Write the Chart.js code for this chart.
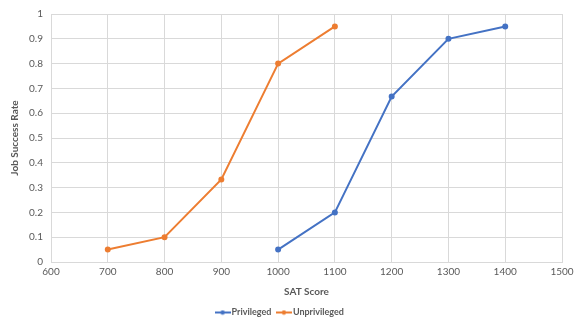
<!DOCTYPE html>
<html>
<head>
<meta charset="utf-8">
<script src="https://cdn.jsdelivr.net/npm/chart.js@4"></script>
<style>
  html, body { margin: 0; padding: 0; background: #fff; }
  #wrap { width: 581px; height: 327px; position: relative; }
</style>
</head>
<body>
<div id="wrap"><canvas id="chart"></canvas></div>
<script>
// data
const privilegedScores = [1000, 1100, 1200, 1300, 1400];
const privilegedRates = [0.05, 0.2, 0.667, 0.9, 0.95];
const unprivilegedScores = [700, 800, 900, 1000, 1100];
const unprivilegedRates = [0.05, 0.1, 0.333, 0.8, 0.95];

const BLUE = '#4472C4';
const ORANGE = '#ED7D31';
const FONT = 'Lato, "Open Sans", sans-serif';

function toPoints(xs, ys) {
  return xs.map((x, i) => ({ x: x, y: ys[i] }));
}

// little line-with-dot marker for the legend
function legendMarker(color) {
  const c = document.createElement('canvas');
  c.width = 16; c.height = 6;
  const g = c.getContext('2d');
  g.strokeStyle = color;
  g.lineWidth = 2;
  g.beginPath(); g.moveTo(0, 3); g.lineTo(16, 3); g.stroke();
  g.fillStyle = color;
  g.beginPath(); g.arc(8, 3, 2.2, 0, Math.PI * 2); g.fill();
  return c;
}

const ctx = document.getElementById('chart').getContext('2d');
new Chart(ctx, {
  type: 'line',
  data: {
    datasets: [
      {
        label: 'Privileged',
        data: toPoints(privilegedScores, privilegedRates),
        borderColor: BLUE,
        backgroundColor: BLUE,
        borderWidth: 2,
        pointRadius: 2,
        tension: 0
      },
      {
        label: 'Unprivileged',
        data: toPoints(unprivilegedScores, unprivilegedRates),
        borderColor: ORANGE,
        backgroundColor: ORANGE,
        borderWidth: 2,
        pointRadius: 2,
        tension: 0
      }
    ]
  },
  options: {
    responsive: true,
    maintainAspectRatio: false,
    animation: false,
    layout: { padding: { top: 10, right: 19, left: 0, bottom: 0 } },
    plugins: {
      tooltip: { enabled: false },
      legend: {
        position: 'bottom',
        labels: {
          usePointStyle: true,
          font: { family: FONT, size: 9, weight: 'bold' },
          color: '#595959',
          padding: 8,
          generateLabels: function(chart) {
            return chart.data.datasets.map((ds, i) => ({
              text: ds.label,
              pointStyle: legendMarker(ds.borderColor),
              fillStyle: ds.borderColor,
              strokeStyle: ds.borderColor,
              lineWidth: 0,
              hidden: false,
              datasetIndex: i,
              fontColor: '#595959'
            }));
          }
        }
      }
    },
    scales: {
      x: {
        type: 'linear',
        min: 600,
        max: 1500,
        ticks: {
          stepSize: 100,
          color: '#595959',
          font: { family: FONT, size: 10 },
          maxRotation: 0,
          padding: 4,
          callback: function(v) { return String(v); }
        },
        grid: { color: '#d9d9d9', drawTicks: false },
        border: { color: '#d9d9d9' },
        title: {
          display: true,
          text: 'SAT Score',
          color: '#595959',
          font: { family: FONT, size: 10, weight: 'bold' },
          padding: { top: 2, bottom: 2 }
        },
        afterFit: function(scale) { scale.height = 38; }
      },
      y: {
        min: 0,
        max: 1,
        ticks: {
          stepSize: 0.1,
          color: '#595959',
          font: { family: FONT, size: 10 },
          padding: 8,
          callback: function(v) { return String(Math.round(v * 10) / 10); }
        },
        grid: { color: '#d9d9d9', drawTicks: false },
        border: { color: '#d9d9d9' },
        title: {
          display: true,
          text: 'Job Success Rate',
          color: '#595959',
          font: { family: FONT, size: 10, weight: 'bold' },
          padding: { top: 9, bottom: 2 }
        },
        afterFit: function(scale) { scale.width = 51; }
      }
    }
  }
});
</script>
</body>
</html>
